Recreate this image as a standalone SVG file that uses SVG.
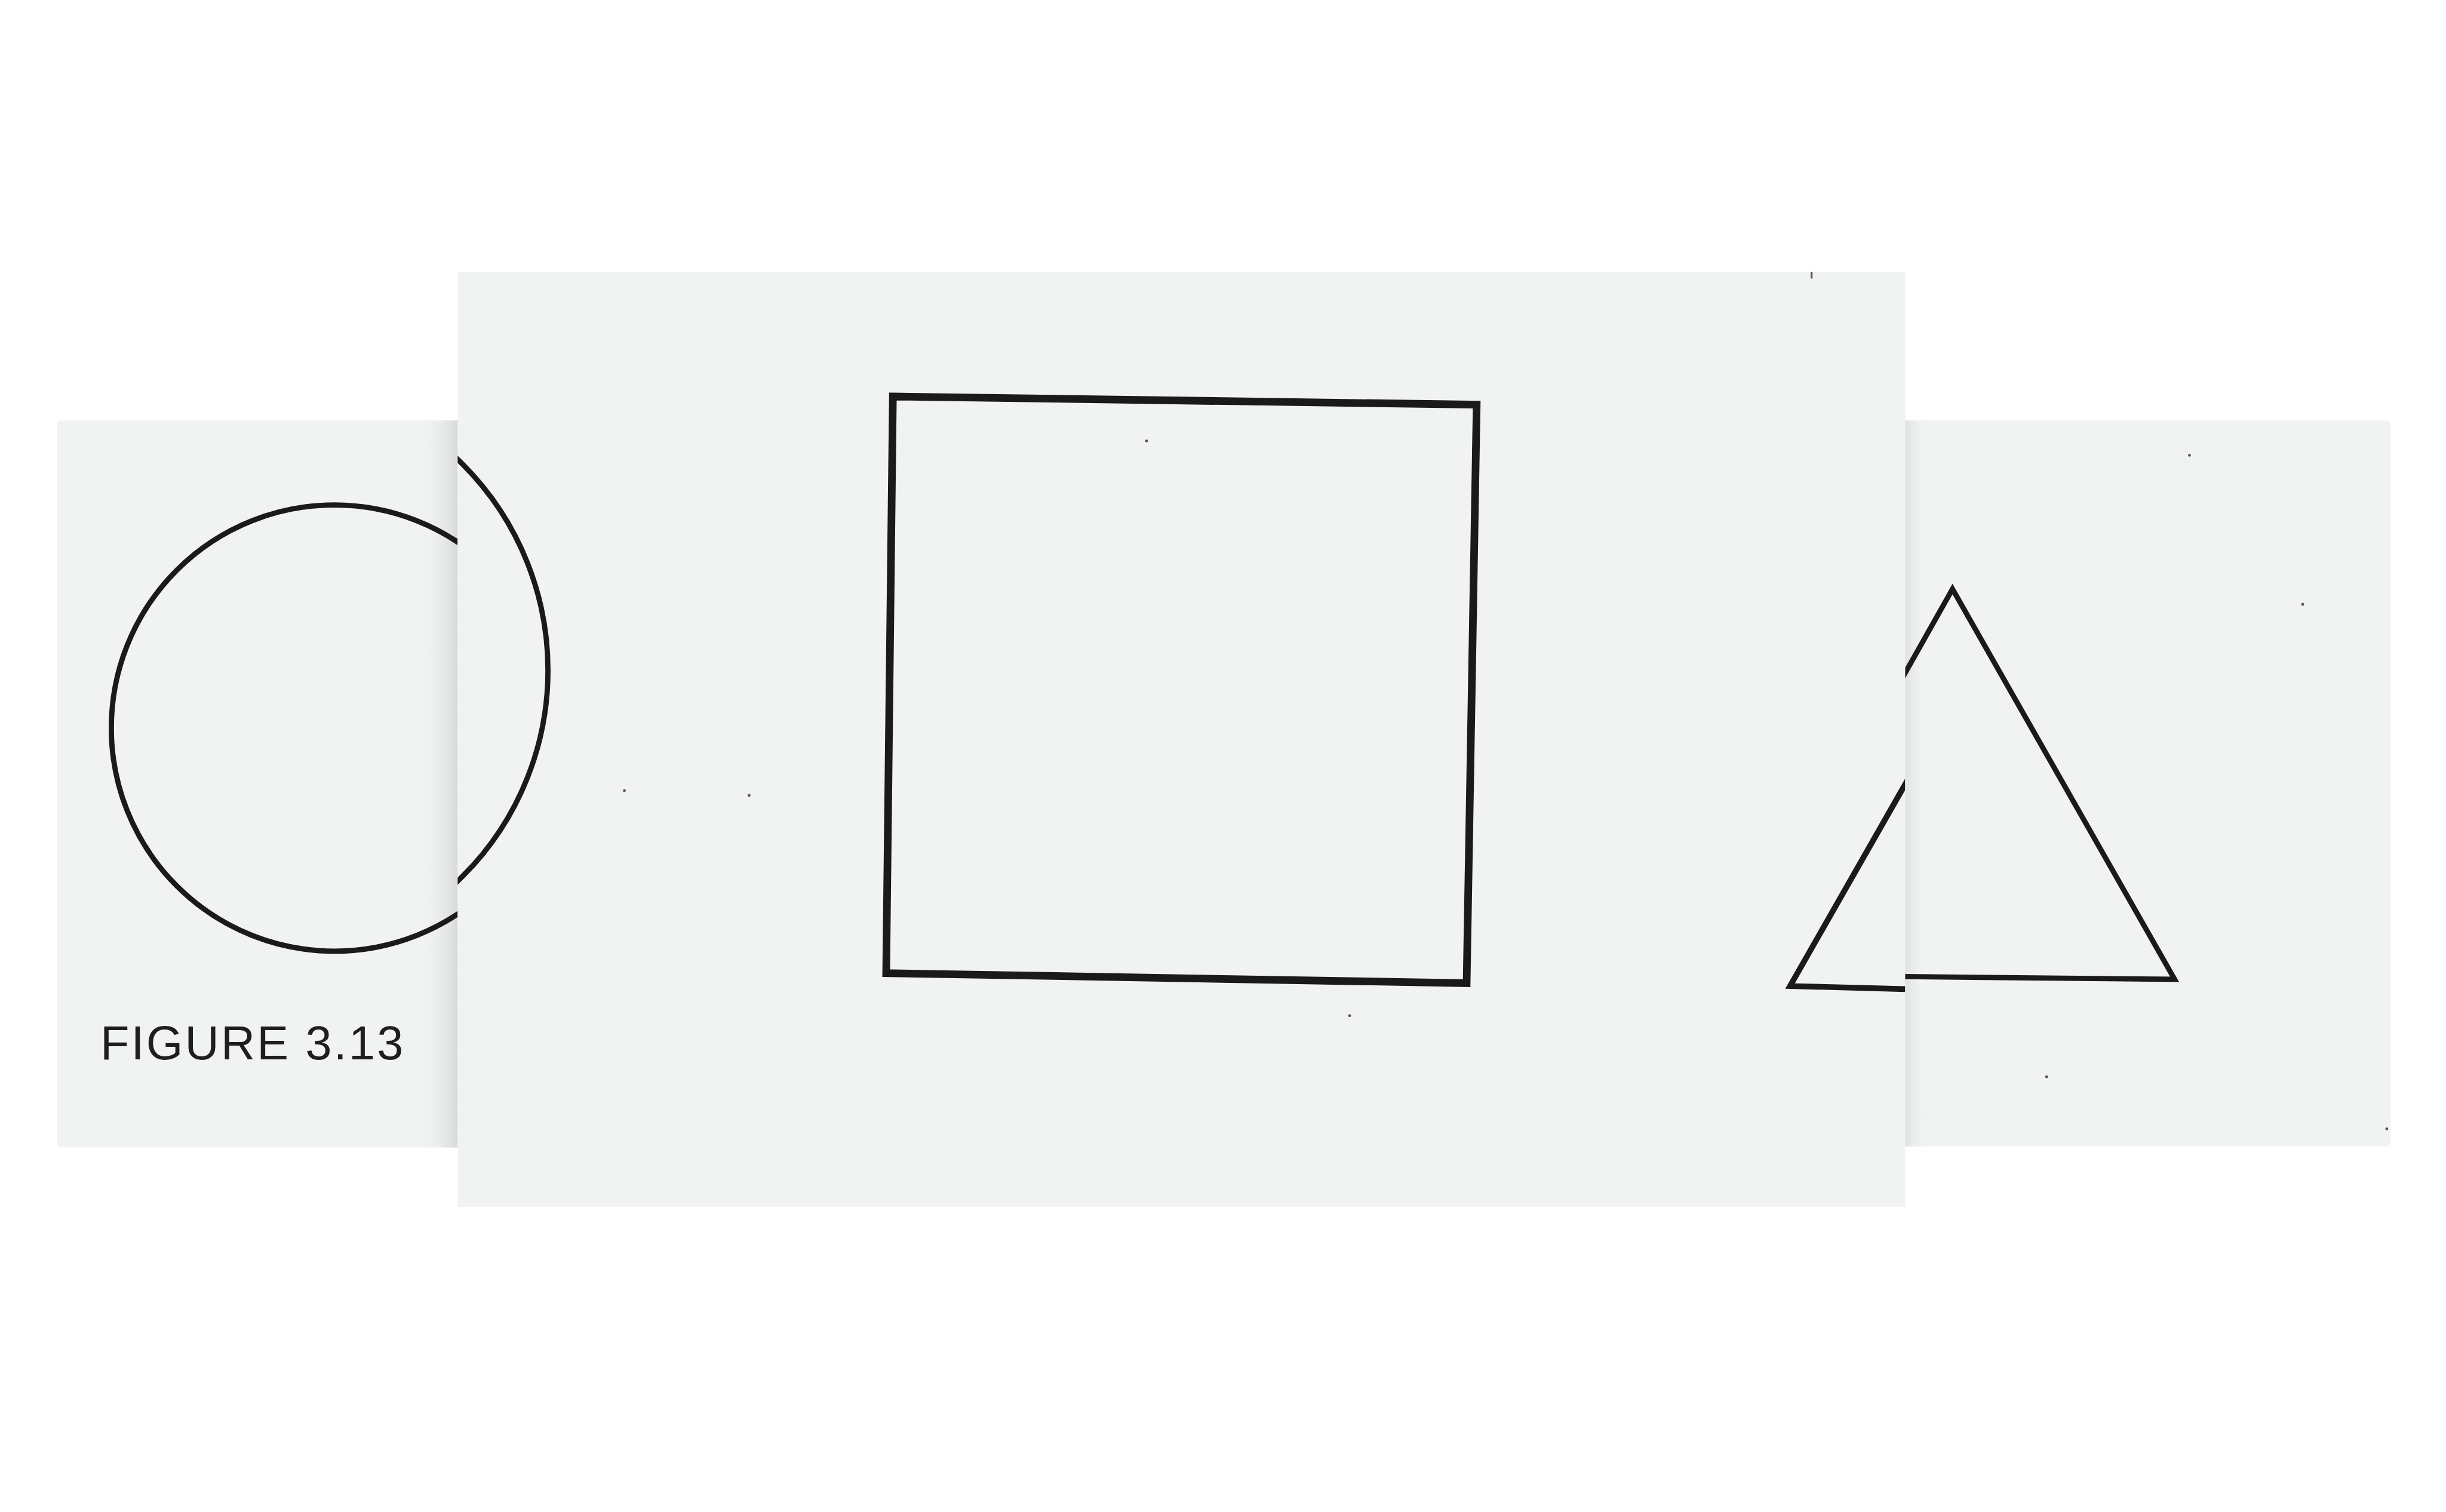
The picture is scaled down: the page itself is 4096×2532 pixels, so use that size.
<svg xmlns="http://www.w3.org/2000/svg" width="4096" height="2532" viewBox="0 0 4096 2532">
  <defs>
    <style>
      .paper { fill: #f1f3f2; }
      .ink { fill: none; stroke: #1a1a1a; stroke-linejoin: miter; stroke-linecap: butt; }
      .caption { font-family: "Liberation Sans", Arial, Helvetica, sans-serif; fill: #1e1e1e; }
      .speck { fill: #555555; }
    </style>
    <linearGradient id="shadeLeftRight" x1="0" y1="0" x2="1" y2="0">
      <stop offset="0" stop-color="#f1f3f2" stop-opacity="0"/>
      <stop offset="1" stop-color="#d8dad9" stop-opacity="1"/>
    </linearGradient>
    <linearGradient id="shadeRightLeft" x1="0" y1="0" x2="1" y2="0">
      <stop offset="0" stop-color="#dfe1e0" stop-opacity="1"/>
      <stop offset="1" stop-color="#f1f3f2" stop-opacity="0"/>
    </linearGradient>
    <clipPath id="clipLeft"><rect x="119" y="880" width="839" height="1522"/></clipPath>
    <clipPath id="clipMiddle"><rect x="958" y="569" width="3030" height="1957"/></clipPath>
    <clipPath id="clipRight"><rect x="3988" y="880" width="1016" height="1520"/></clipPath>
  </defs>

  <rect width="4096" height="2532" fill="#ffffff"/>

  <g transform="scale(0.8)">
    <!-- Left panel -->
    <g id="panel-left">
      <rect class="paper" x="119" y="880" width="860" height="1522" rx="9" ry="9"/>
      <rect x="880" y="880" width="78" height="1522" fill="url(#shadeLeftRight)"/>
    </g>

    <g id="circle-left" clip-path="url(#clipLeft)">
      <circle class="ink" cx="700" cy="1524" r="467" stroke-width="11"/>
    </g>

    <g id="caption">
      <text class="caption" x="210" y="2218" font-size="99" textLength="634" lengthAdjust="spacing">FIGURE 3.13</text>
    </g>

    <!-- Middle panel -->
    <g id="panel-middle">
      <rect class="paper" x="958" y="569" width="3030" height="1957"/>
      <circle class="speck" cx="1307" cy="1655" r="3"/>
      <circle class="speck" cx="1568" cy="1665" r="3"/>
      <circle class="speck" cx="2400" cy="923" r="3"/>
      <circle class="speck" cx="2825" cy="2126" r="3"/>
      <rect class="speck" x="3790" y="569" width="4" height="14"/>
    </g>

    <g id="circle-middle" clip-path="url(#clipMiddle)">
      <circle class="ink" cx="537" cy="1403" r="610" stroke-width="11"/>
    </g>

    <g id="square">
      <polygon class="ink" points="1869,830 3091,847 3070,2058 1855,2037" stroke-width="16"/>
    </g>

    <g id="triangle-middle" clip-path="url(#clipMiddle)">
      <polyline class="ink" points="4010,1603 3747,2064 4010,2071" stroke-width="12"/>
    </g>

    <!-- Right panel -->
    <g id="panel-right">
      <path class="paper" d="M3988,880 H4995 A9,9 0 0 1 5004,889 V2391 A9,9 0 0 1 4995,2400 H3988 Z"/>
      <rect x="3988" y="880" width="45" height="1520" fill="url(#shadeRightLeft)"/>
      <circle class="speck" cx="4583" cy="953" r="3"/>
      <circle class="speck" cx="4820" cy="1265" r="3"/>
      <circle class="speck" cx="4284" cy="2254" r="3"/>
      <circle class="speck" cx="4996" cy="2363" r="3"/>
    </g>

    <g id="triangle-right" clip-path="url(#clipRight)">
      <polyline class="ink" points="3960,1458 4087,1233 4552,2050 3960,2044" stroke-width="11"/>
    </g>
  </g>
</svg>
